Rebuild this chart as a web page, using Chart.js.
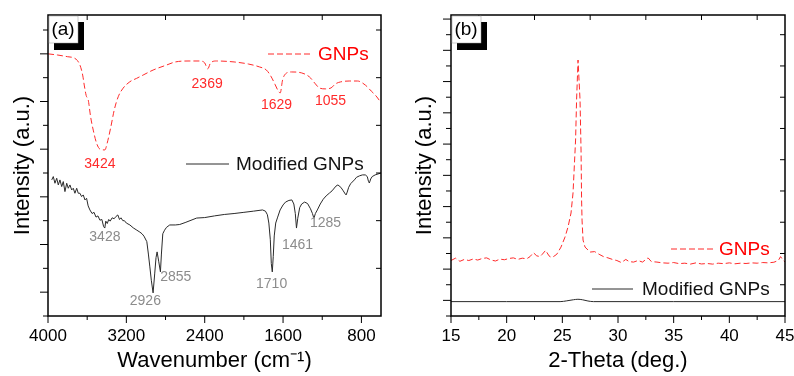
<!DOCTYPE html>
<html>
<head>
<meta charset="utf-8">
<script src="https://cdn.jsdelivr.net/npm/chart.js@4.4.1/dist/chart.umd.min.js"></script>
<style>
  html, body { margin: 0; padding: 0; background: #fff; }
  canvas { position: absolute; top: 0; }
  #ir { left: 0; }
  #xrd { left: 397px; }
</style>
</head>
<body>
<canvas id="ir" width="397" height="376"></canvas>
<canvas id="xrd" width="397" height="376"></canvas>
<script>
// (a) FTIR spectra
const irXTicks = [4000, 3200, 2400, 1600, 800];
const irXMinor = [3600, 2800, 2000, 1200];
const irYLeft = [0, 1, 2, 3, 4, 5, 6, 7, 8, 9, 10, 11, 12];
const irYRight = [2, 4, 6, 8, 10, 12];

const gnpIrWave = [4000, 3900, 3800, 3735, 3700, 3674, 3646, 3630, 3610, 3589,
  3565, 3538, 3504, 3470, 3440, 3419, 3396, 3358, 3324, 3283,
  3233, 3164, 3096, 3029, 2927, 2790, 2700, 2560, 2450, 2400,
  2369, 2340, 2280, 2100, 1950, 1840, 1770, 1720, 1680, 1650,
  1629, 1605, 1575, 1515, 1410, 1330, 1270, 1230, 1170, 1110,
  1065, 1015, 925, 840, 760, 700, 650, 600];
const gnpIrInt = [11.0, 10.95, 10.88, 10.83, 10.72, 10.53, 10.11, 9.69, 9.25, 9.06,
  8.36, 7.8, 7.25, 7.0, 6.97, 6.97, 7.25, 7.94, 8.64, 9.2,
  9.56, 9.83, 9.97, 10.11, 10.32, 10.53, 10.66, 10.7, 10.7, 10.62,
  10.37, 10.62, 10.7, 10.66, 10.57, 10.45, 10.32, 10.03, 9.7, 9.45,
  9.36, 9.9, 10.16, 10.24, 10.2, 10.03, 9.74, 9.57, 9.53, 9.57,
  9.74, 9.82, 9.86, 9.86, 9.69, 9.44, 9.23, 8.95];

const modIrWave = [3962, 3946, 3929, 3911, 3895, 3878, 3860, 3844, 3827, 3809,
  3793, 3776, 3758, 3742, 3725, 3707, 3691, 3674, 3657, 3640,
  3623, 3606, 3590, 3572, 3550, 3530, 3510, 3490, 3470, 3450,
  3432, 3420, 3410, 3395, 3380, 3365, 3345, 3325, 3305, 3287,
  3270, 3255, 3236, 3220, 3200, 3164, 3130, 3100, 3062, 3040,
  3020, 2991, 2975, 2960, 2945, 2927, 2910, 2897, 2886, 2870,
  2852, 2842, 2828, 2810, 2790, 2757, 2700, 2655, 2600, 2550,
  2482, 2400, 2300, 2200, 2100, 2000, 1900, 1810, 1780, 1760,
  1745, 1730, 1720, 1710, 1700, 1690, 1675, 1655, 1630, 1600,
  1575, 1540, 1510, 1490, 1475, 1463, 1450, 1430, 1410, 1380,
  1350, 1320, 1300, 1285, 1270, 1250, 1220, 1190, 1160, 1126,
  1100, 1060, 1040, 1010, 985, 965, 956, 945, 930, 910,
  872, 850, 820, 790, 760, 740, 728, 719, 705, 690,
  660, 630, 600];
const modIrInt = [5.71, 5.85, 5.57, 5.78, 5.50, 5.71, 5.43, 5.64, 5.22, 5.57,
  5.36, 5.50, 5.29, 5.36, 5.15, 5.36, 5.15, 5.15, 5.01, 5.08,
  4.87, 4.94, 4.62, 4.45, 4.30, 4.35, 4.15, 4.20, 4.02, 4.05,
  3.75, 3.69, 3.98, 3.88, 4.05, 3.98, 4.12, 4.08, 4.18, 4.24,
  4.05, 4.12, 4.00, 4.00, 3.90, 3.82, 3.70, 3.62, 3.52, 3.45,
  3.35, 3.12, 2.60, 2.06, 1.50, 0.97, 1.80, 2.45, 2.69, 2.30,
  1.85, 2.60, 3.45, 3.60, 3.72, 3.82, 3.82, 3.84, 3.92, 4.00,
  4.11, 4.13, 4.20, 4.26, 4.30, 4.35, 4.40, 4.45, 4.40, 4.25,
  3.90, 3.20, 2.20, 1.85, 2.50, 3.36, 3.90, 4.15, 4.45, 4.66,
  4.78, 4.85, 4.87, 4.70, 4.30, 3.69, 4.10, 4.55, 4.70, 4.78,
  4.72, 4.50, 4.30, 4.10, 4.30, 4.45, 4.70, 4.90, 5.04, 5.16,
  5.25, 5.45, 5.50, 5.40, 5.25, 5.12, 5.08, 5.20, 5.40, 5.55,
  5.71, 5.82, 5.88, 5.92, 5.92, 5.85, 5.65, 5.58, 5.75, 5.85,
  5.92, 5.96, 6.00];

const gnpIrPeaks = ['3424', '2369', '1629', '1055'];
const modIrPeaks = ['3428', '2926', '2855', '1710', '1461', '1285'];

// (b) XRD patterns
const xrdXTicks = [15, 20, 25, 30, 35, 40, 45];
const xrdXMinor = [17.5, 22.5, 27.5, 32.5, 37.5, 42.5];
const xrdYLeft = [0, 1, 2, 3, 4, 5, 6, 7, 8, 9, 10, 11, 12, 13, 14, 15, 16, 17, 18, 19];
const xrdYRight = [2, 4, 6, 8, 10, 12, 14, 16, 18];

const gnpXrdAngle = [15.0, 15.4, 15.8, 16.2, 16.6, 17.0, 17.4, 17.8, 18.2, 18.6,
  19.0, 19.4, 19.8, 20.2, 20.6, 21.0, 21.4, 21.8, 22.1, 22.4,
  22.7, 23.0, 23.2, 23.5, 23.8, 24.0, 24.2, 24.5, 24.88, 25.24,
  25.51, 25.78, 25.96, 26.19, 26.28, 26.41, 26.59, 26.68, 26.73, 26.77,
  26.86, 27.04, 27.49, 27.9, 28.3, 28.7, 29.1, 29.5, 29.9, 30.3,
  30.7, 31.0, 31.4, 31.8, 32.2, 32.7, 33.0, 33.5, 34.0, 34.5,
  35.0, 35.5, 36.0, 36.5, 37.0, 37.5, 38.0, 38.5, 39.0, 39.5,
  40.0, 40.5, 41.0, 41.5, 42.0, 42.5, 43.0, 43.5, 44.0, 44.4,
  44.6, 44.8, 45.0];
const gnpXrdInt = [3.55, 3.70, 3.50, 3.62, 3.55, 3.65, 3.58, 3.68, 3.72, 3.58,
  3.52, 3.64, 3.60, 3.68, 3.72, 3.62, 3.70, 3.66, 3.80, 4.05,
  3.85, 3.80, 3.95, 4.20, 3.85, 3.75, 3.80, 3.95, 4.41, 5.05,
  5.69, 6.59, 7.87, 11.26, 13.82, 16.38, 13.82, 10.62, 7.42, 6.14,
  4.86, 4.41, 4.09, 4.12, 3.95, 3.80, 3.72, 3.62, 3.55, 3.42,
  3.62, 3.48, 3.45, 3.55, 3.45, 3.72, 3.48, 3.45, 3.40, 3.38,
  3.42, 3.35, 3.38, 3.32, 3.40, 3.33, 3.36, 3.32, 3.38, 3.35,
  3.40, 3.34, 3.38, 3.36, 3.40, 3.38, 3.42, 3.40, 3.44, 3.55,
  3.80, 3.60, 3.45];

const modXrdAngle = [15, 20, 24.8, 25.4, 26.0, 26.4, 26.8, 27.3, 27.8, 35, 45];
const modXrdInt = [0.92, 0.92, 0.92, 0.97, 1.04, 1.07, 1.04, 0.96, 0.92, 0.92, 0.92];

const FONT = "'Liberation Sans', Arial, sans-serif";
Chart.defaults.font.family = FONT;
Chart.defaults.color = '#000';

const RED = '#ff2a2a';
const DARK = '#2a2a2a';

// frame, tick marks, peak labels, legend and panel tag
const decor = {
  id: 'decor',
  afterDatasetsDraw(chart, args, o) {
    const { ctx, chartArea: a } = chart;
    const sx = chart.scales.x, sy = chart.scales.y;
    ctx.save();
    ctx.strokeStyle = '#000';
    ctx.lineWidth = 1;
    ctx.beginPath();
    const seg = (x1, y1, x2, y2) => { ctx.moveTo(x1, y1); ctx.lineTo(x2, y2); };
    o.xMajor.forEach(v => { const p = sx.getPixelForValue(v); seg(p, a.bottom, p, a.bottom + 7); });
    o.xMinor.forEach(v => { const p = sx.getPixelForValue(v); seg(p, a.bottom, p, a.bottom + 4); });
    o.xMinor.forEach(v => { const p = sx.getPixelForValue(v); seg(p, a.top, p, a.top + 5); });
    o.yLeft.forEach(v => { const p = sy.getPixelForValue(v); seg(a.left, p, a.left - (v % 2 ? 8 : 5), p); });
    o.yRight.forEach(v => { const p = sy.getPixelForValue(v); seg(a.right, p, a.right - 5, p); });
    ctx.stroke();
    ctx.lineWidth = 1.5;
    ctx.strokeRect(a.left, a.top, a.right - a.left, a.bottom - a.top);

    // peak labels
    ctx.textAlign = 'center';
    ctx.textBaseline = 'middle';
    ctx.font = '14px ' + FONT;
    o.notes.forEach(n => {
      ctx.fillStyle = n.color;
      ctx.fillText(n.text, sx.getPixelForValue(n.at[0]), sy.getPixelForValue(n.at[1]));
    });

    // legend entries
    ctx.textAlign = 'left';
    ctx.font = '19px ' + FONT;
    o.legend.forEach(l => {
      const ds = chart.data.datasets[l.ds];
      const y = a.top + l.dy;
      ctx.strokeStyle = ds.borderColor;
      ctx.lineWidth = 1;
      ctx.setLineDash(ds.borderDash || []);
      ctx.beginPath();
      ctx.moveTo(a.left + l.x1, y);
      ctx.lineTo(a.left + l.x2, y);
      ctx.stroke();
      ctx.setLineDash([]);
      ctx.fillStyle = l.textColor;
      ctx.fillText(ds.label, a.left + l.tx, y + 1);
    });

    // panel tag with shadow
    ctx.fillStyle = '#000';
    ctx.fillRect(a.left + 6, a.top + 7, 30, 28);
    ctx.fillStyle = '#fff';
    ctx.fillRect(a.left + 1, a.top + 1, 29, 27);
    ctx.strokeStyle = '#999';
    ctx.lineWidth = 0.5;
    ctx.strokeRect(a.left + 1, a.top + 1, 29, 27);
    ctx.fillStyle = '#000';
    ctx.textAlign = 'center';
    ctx.font = '19px ' + FONT;
    ctx.fillText(o.tag, a.left + 15, a.top + 15);
    ctx.restore();
  }
};

function xyPairs(xs, ys) {
  return xs.map((x, i) => ({ x, y: ys[i] }));
}

function baseScales(xOpts, yOpts) {
  return {
    x: Object.assign({
      type: 'linear',
      grid: { display: false, drawTicks: false },
      border: { display: false },
      ticks: { font: { size: 17 }, color: '#000', padding: 10, maxRotation: 0, callback: v => String(v) },
      // keep the plot box where the reference has it, labels may overhang
      afterFit: s => { s.height = 60; s.paddingLeft = 0; s.paddingRight = 0; }
    }, xOpts),
    y: Object.assign({
      type: 'linear',
      min: 0,
      grid: { display: false, drawTicks: false },
      border: { display: false },
      ticks: { display: false }
    }, yOpts)
  };
}

new Chart(document.getElementById('ir'), {
  type: 'line',
  data: {
    datasets: [
      { label: 'GNPs', data: xyPairs(gnpIrWave, gnpIrInt), borderColor: RED, borderDash: [6, 3],
        borderWidth: 1, pointRadius: 0, cubicInterpolationMode: 'monotone' },
      { label: 'Modified GNPs', data: xyPairs(modIrWave, modIrInt), borderColor: DARK,
        borderWidth: 1, pointRadius: 0, tension: 0 }
    ]
  },
  options: {
    responsive: false,
    animation: false,
    devicePixelRatio: 1,
    layout: { padding: { top: 15, right: 16, left: 0, bottom: 0 } },
    scales: baseScales(
      { min: 600, max: 4000, reverse: true,
        afterBuildTicks: s => { s.ticks = irXTicks.map(v => ({ value: v })); },
        title: { display: true, text: 'Wavenumber (cm\u207B\u00B9)', font: { size: 22 }, color: '#000', padding: { top: 0, bottom: 2 } } },
      { max: 12.63,
        title: { display: true, text: 'Intensity (a.u.)', font: { size: 22 }, color: '#000', padding: { top: 10, bottom: 0 } },
        afterFit: s => { s.width = 48; } }
    ),
    plugins: {
      legend: { display: false },
      tooltip: { enabled: false },
      decor: {
        tag: '(a)',
        xMajor: irXTicks, xMinor: irXMinor, yLeft: irYLeft, yRight: irYRight,
        notes: [
          { text: gnpIrPeaks[0], at: [3470, 6.38], color: RED },
          { text: gnpIrPeaks[1], at: [2375, 9.74], color: RED },
          { text: gnpIrPeaks[2], at: [1667, 8.83], color: RED },
          { text: gnpIrPeaks[3], at: [1115, 9.02], color: RED },
          { text: modIrPeaks[0], at: [3419, 3.29], color: '#8c8c8c' },
          { text: modIrPeaks[1], at: [3006, 0.63], color: '#8c8c8c' },
          { text: modIrPeaks[2], at: [2696, 1.64], color: '#8c8c8c' },
          { text: modIrPeaks[3], at: [1717, 1.34], color: '#8c8c8c' },
          { text: modIrPeaks[4], at: [1452, 2.98], color: '#8c8c8c' },
          { text: modIrPeaks[5], at: [1167, 3.88], color: '#8c8c8c' }
        ],
        legend: [
          { ds: 0, x1: 220, x2: 265, tx: 270, dy: 39, textColor: '#ff0000' },
          { ds: 1, x1: 138, x2: 181, tx: 188, dy: 149, textColor: '#111' }
        ]
      }
    }
  },
  plugins: [decor]
});

new Chart(document.getElementById('xrd'), {
  type: 'line',
  data: {
    datasets: [
      { label: 'GNPs', data: xyPairs(gnpXrdAngle, gnpXrdInt), borderColor: RED, borderDash: [6, 3],
        borderWidth: 1, pointRadius: 0, tension: 0 },
      { label: 'Modified GNPs', data: xyPairs(modXrdAngle, modXrdInt), borderColor: DARK,
        borderWidth: 1, pointRadius: 0, cubicInterpolationMode: 'monotone' }
    ]
  },
  options: {
    responsive: false,
    animation: false,
    devicePixelRatio: 1,
    layout: { padding: { top: 15, right: 9, left: 0, bottom: 0 } },
    scales: baseScales(
      { min: 15, max: 45,
        afterBuildTicks: s => { s.ticks = xrdXTicks.map(v => ({ value: v })); },
        title: { display: true, text: '2-Theta (deg.)', font: { size: 22 }, color: '#000', padding: { top: 0, bottom: 2 } } },
      { max: 19.26,
        title: { display: true, text: 'Intensity (a.u.)', font: { size: 22 }, color: '#000', padding: { top: 15, bottom: 0 } },
        afterFit: s => { s.width = 54; } }
    ),
    plugins: {
      legend: { display: false },
      tooltip: { enabled: false },
      decor: {
        tag: '(b)',
        xMajor: xrdXTicks, xMinor: xrdXMinor, yLeft: xrdYLeft, yRight: xrdYRight,
        notes: [],
        legend: [
          { ds: 0, x1: 220, x2: 262, tx: 268, dy: 234, textColor: '#ff0000' },
          { ds: 1, x1: 141, x2: 182, tx: 191, dy: 274, textColor: '#111' }
        ]
      }
    }
  },
  plugins: [decor]
});
</script>
</body>
</html>
